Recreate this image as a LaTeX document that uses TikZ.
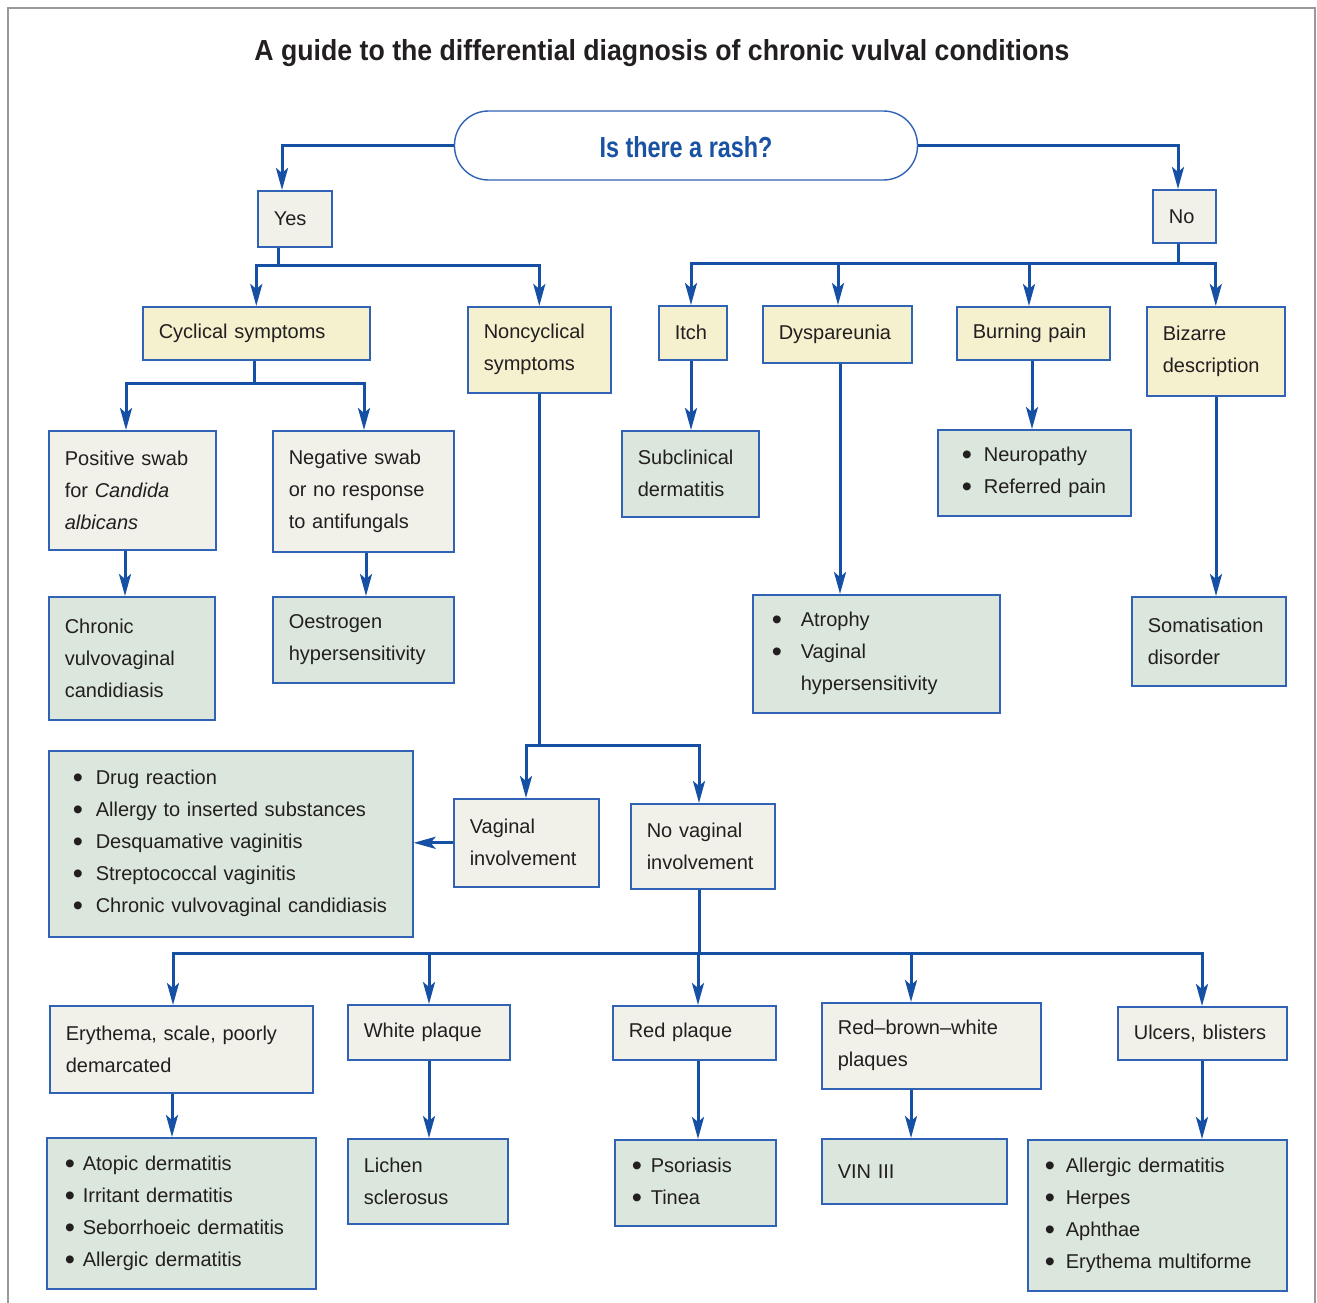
\documentclass[tikz,border=0pt]{standalone}
\usepackage{fontspec}
\setmainfont{Liberation Sans}
\usepackage{graphicx}
\usetikzlibrary{arrows.meta}
\definecolor{lineblue}{RGB}{22,80,165}
\definecolor{boxblue}{RGB}{48,98,182}
\definecolor{qyellow}{RGB}{245,240,205}
\definecolor{midgrey}{RGB}{241,241,233}
\definecolor{resgreen}{RGB}{219,230,220}
\definecolor{inktext}{RGB}{35,31,32}
\definecolor{rashblue}{RGB}{25,82,162}
\tikzstyle{box} = [draw=boxblue, line width=1.6pt, anchor=north west, inner xsep=16pt, inner ysep=0pt, align=left, text=inktext, font=\fontsize{20}{32}\selectfont]
\tikzstyle{quest} = [box, fill=qyellow]
\tikzstyle{mid} = [box, fill=midgrey]
\tikzstyle{res} = [box, fill=resgreen]
\tikzstyle{conn} = [draw=lineblue, line width=3pt]
\tikzstyle{arr} = [conn, -{Stealth[length=22pt,width=12pt,inset=5pt]}]
\newcommand{\itm}[2][20pt]{\makebox[#1][l]{\raisebox{-3pt}{\scalebox{1.45}{\textbullet}}}#2}

\begin{document}
\begin{tikzpicture}[x=1pt,y=-1pt]
  \useasboundingbox (0,0) rectangle (1317,1303);
  \draw [gray!80, line width=1.2pt] (8,1303) -- (8,8) -- (1315,8) -- (1315,1303);

  \node (title) at (662,53) [text=inktext, font=\fontsize{29}{32}\selectfont\bfseries] {\resizebox{815pt}{\height}{A guide to the differential diagnosis of chronic vulval conditions}};
  \node (rash) at (686,145.5) [draw=boxblue, line width=1.4pt, fill=white, rounded corners=34pt, minimum width=463pt, minimum height=69pt] {};
  \node at (686,147) [text=rashblue, font=\fontsize{29}{32}\selectfont\bfseries] {\resizebox{173pt}{\height}{Is there a rash?}};

  \node (yes) at (257,190) [mid, text width=42pt, minimum height=56pt] {Yes};
  \node (no) at (1152,189) [mid, text width=31pt, minimum height=53pt] {No};

  \node (cyc) at (142,306) [quest, text width=195pt, minimum height=53pt] {Cyclical symptoms};
  \node (noncyc) at (467,306) [quest, text width=111pt, minimum height=86pt] {Noncyclical\\symptoms};
  \node (itch) at (658,305) [quest, text width=36pt, minimum height=54pt] {Itch};
  \node (dysp) at (762,305) [quest, text width=117pt, minimum height=57pt] {Dyspareunia};
  \node (burn) at (956,306) [quest, text width=121pt, minimum height=53pt] {Burning pain};
  \node (biz) at (1146,306) [quest, text width=106pt, minimum height=89pt] {Bizarre\\description};

  \node (pos) at (48,430) [mid, text width=135pt, minimum height=119pt] {Positive swab\\for \textit{Candida}\\\textit{albicans}};
  \node (neg) at (272,430) [mid, text width=149pt, minimum height=121pt] {Negative swab\\or no response\\to antifungals};
  \node (cvc) at (48,596) [res, text width=134pt, minimum height=123pt] {Chronic\\vulvovaginal\\candidiasis};
  \node (oest) at (272,596) [res, text width=149pt, minimum height=86pt] {Oestrogen\\hypersensitivity};

  \node (subc) at (621,430) [res, text width=105pt, minimum height=86pt] {Subclinical\\dermatitis};
  \node (neuro) at (937,429) [res, inner xsep=10pt, text width=173pt, minimum height=86pt] {\hspace*{14pt}\itm[22pt]{Neuropathy}\\\hspace*{14pt}\itm[22pt]{Referred pain}};
  \node (atro) at (752,594) [res, inner xsep=19pt, text width=209pt, minimum height=118pt] {\itm[29pt]{Atrophy}\\\itm[29pt]{Vaginal}\\\hspace*{29pt}hypersensitivity};
  \node (soma) at (1131,596) [res, text width=122pt, minimum height=89pt] {Somatisation\\disorder};

  \node (drug) at (48,750) [res, inner xsep=24pt, text width=316pt, minimum height=186pt] {\itm[23pt]{Drug reaction}\\\itm[23pt]{Allergy to inserted substances}\\\itm[23pt]{Desquamative vaginitis}\\\itm[23pt]{Streptococcal vaginitis}\\\itm[23pt]{Chronic vulvovaginal candidiasis}};
  \node (vag) at (453,798) [mid, text width=113pt, minimum height=88pt] {Vaginal\\involvement};
  \node (novag) at (630,803) [mid, text width=112pt, minimum height=85pt] {No vaginal\\involvement};

  \node (ery) at (49,1005) [mid, text width=231pt, minimum height=87pt] {Erythema, scale, poorly\\demarcated};
  \node (white) at (347,1004) [mid, text width=130pt, minimum height=55pt] {White plaque};
  \node (red) at (612,1005) [mid, text width=131pt, minimum height=54pt] {Red plaque};
  \node (rbw) at (821,1002) [mid, text width=187pt, minimum height=86pt] {Red--brown--white\\plaques};
  \node (ulc) at (1117,1006) [mid, text width=137pt, minimum height=53pt] {Ulcers, blisters};

  \node (atop) at (46,1137) [res, inner xsep=18pt, text width=233pt, minimum height=151pt] {\itm[18pt]{Atopic dermatitis}\\\itm[18pt]{Irritant dermatitis}\\\itm[18pt]{Seborrhoeic dermatitis}\\\itm[18pt]{Allergic dermatitis}};
  \node (lich) at (347,1138) [res, text width=128pt, minimum height=85pt] {Lichen\\sclerosus};
  \node (psor) at (614,1139) [res, inner xsep=17pt, text width=127pt, minimum height=86pt] {\itm[19pt]{Psoriasis}\\\itm[19pt]{Tinea}};
  \node (vin) at (821,1138) [res, text width=153pt, minimum height=65pt] {VIN III};
  \node (allg) at (1027,1139) [res, inner xsep=17pt, text width=225pt, minimum height=151pt] {\itm[21pt]{Allergic dermatitis}\\\itm[21pt]{Herpes}\\\itm[21pt]{Aphthae}\\\itm[21pt]{Erythema multiforme}};

  \coordinate (ysplit) at (278,265);
  \coordinate (nsplit) at (1178,263);
  \coordinate (csplit) at (254,383);
  \coordinate (vsplit) at (539,745);
  \coordinate (lsplit) at (699,953);

  \draw [arr] (rash.west) -| (yes.north -| 282,0);
  \draw [arr] (rash.east) -| (no.north -| 1178,0);

  \draw [conn] (yes.south -| ysplit) -- (ysplit);
  \draw [arr] (ysplit) -| (cyc);
  \draw [arr] (ysplit) -| (noncyc);

  \draw [conn] (no.south -| nsplit) -- (nsplit);
  \draw [arr] (nsplit) -| (itch.north -| 691,0);
  \draw [arr] (nsplit) -| (dysp.north -| 838,0);
  \draw [arr] (nsplit) -| (burn.north -| 1029,0);
  \draw [arr] (nsplit) -| (biz);

  \draw [conn] (cyc.south -| csplit) -- (csplit);
  \draw [arr] (csplit) -| (pos.north -| 126,0);
  \draw [arr] (csplit) -| (neg.north -| 364,0);
  \draw [arr] (pos.south -| 125,0) -- (cvc.north -| 125,0);
  \draw [arr] (neg.south -| 366,0) -- (oest.north -| 366,0);

  \draw [arr] (itch.south -| 691,0) -- (subc.north -| 691,0);
  \draw [arr] (dysp.south -| 840,0) -- (atro.north -| 840,0);
  \draw [arr] (burn.south -| 1032,0) -- (neuro.north -| 1032,0);
  \draw [arr] (biz.south -| 1216,0) -- (soma.north -| 1216,0);

  \draw [conn] (noncyc.south -| vsplit) -- (vsplit);
  \draw [arr] (vsplit) -| (vag.north -| 526,0);
  \draw [arr] (vsplit) -| (novag.north -| 699,0);
  \draw [arr] (vag.west) -- (drug.east |- vag.west);

  \draw [conn] (novag.south -| lsplit) -- (lsplit);
  \draw [arr] (lsplit) -| (ery.north -| 173,0);
  \draw [arr] (lsplit) -| (white.north -| 429,0);
  \draw [arr] (lsplit) -| (red.north -| 698,0);
  \draw [arr] (lsplit) -| (rbw.north -| 911,0);
  \draw [arr] (lsplit) -| (ulc.north -| 1202,0);

  \draw [arr] (ery.south -| 172,0) -- (atop.north -| 172,0);
  \draw [arr] (white.south -| 429,0) -- (lich.north -| 429,0);
  \draw [arr] (red.south -| 698,0) -- (psor.north -| 698,0);
  \draw [arr] (rbw.south -| 911,0) -- (vin.north -| 911,0);
  \draw [arr] (ulc.south -| 1202,0) -- (allg.north -| 1202,0);
\end{tikzpicture}
\end{document}
